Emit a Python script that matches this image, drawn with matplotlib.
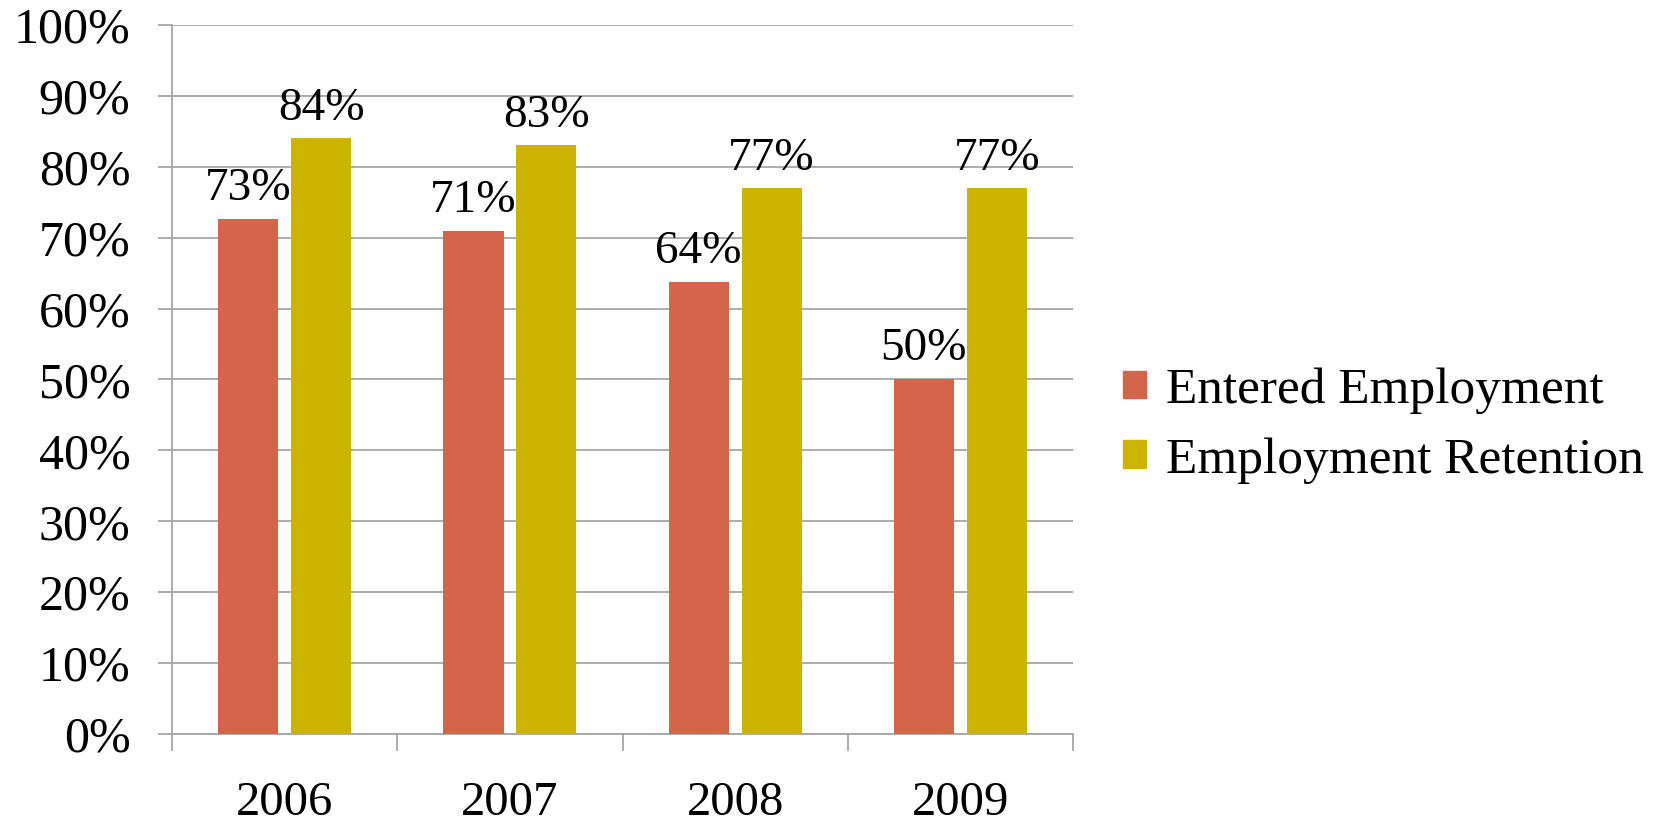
import numpy as np
import matplotlib
matplotlib.use('Agg')
import matplotlib.pyplot as plt
from matplotlib.patches import Patch

plt.rcParams['font.family'] = ['Liberation Serif', 'DejaVu Serif']

years = ['2006', '2007', '2008', '2009']
entered = [72.7, 71.0, 63.8, 50.1]
retention = [84.0, 83.0, 77.0, 77.0]
series_names = ['Entered Employment', 'Employment Retention']
colors = ['#D4654B', '#CCB400']

fig = plt.figure(figsize=(16.61, 8.31), dpi=100)
ax = fig.add_axes([0.1036, 0.1167, 0.5424, 0.8533])

x = np.arange(len(years))
w = 0.267
off = 0.162
b1 = ax.bar(x - off, entered, w, color=colors[0], zorder=3)
b2 = ax.bar(x + off, retention, w, color=colors[1], zorder=3)

for bars, vals in ((b1, entered), (b2, retention)):
    for rect, v in zip(bars, vals):
        ax.annotate(f'{round(v)}%', (rect.get_x() + rect.get_width() / 2, v),
                    xytext=(0, 6), textcoords='offset points',
                    ha='center', va='bottom', fontsize=34)

ax.set_ylim(0, 100)
ax.set_xlim(-0.5, len(years) - 0.5)
ax.set_yticks(np.arange(0, 101, 10))
ax.set_yticklabels([f'{v}%' for v in range(0, 101, 10)], fontsize=36)
ax.yaxis.grid(True, color='#A6A6A6', linewidth=1.3, zorder=0)
ax.tick_params(axis='y', length=10, color='#A6A6A6', width=1.3, pad=20)

ax.set_xticks(x)
ax.set_xticklabels(years, fontsize=35)
ax.set_xticks(np.arange(-0.5, len(years), 1), minor=True)
ax.tick_params(axis='x', which='major', length=0, pad=34)
ax.tick_params(axis='x', which='minor', length=12, color='#A6A6A6', width=1.3)

for s in ['top', 'right']:
    ax.spines[s].set_visible(False)
for s in ['left', 'bottom']:
    ax.spines[s].set_color('#A6A6A6')
    ax.spines[s].set_linewidth(1.3)

handles = [Patch(color=c) for c in colors]
fig.legend(handles, series_names, loc='center left', bbox_to_anchor=(0.648, 0.488),
           frameon=False, fontsize=37, handlelength=0.45, handleheight=0.45,
           handletextpad=0.4, labelspacing=0.45)

fig.savefig('out.png', dpi=100)
